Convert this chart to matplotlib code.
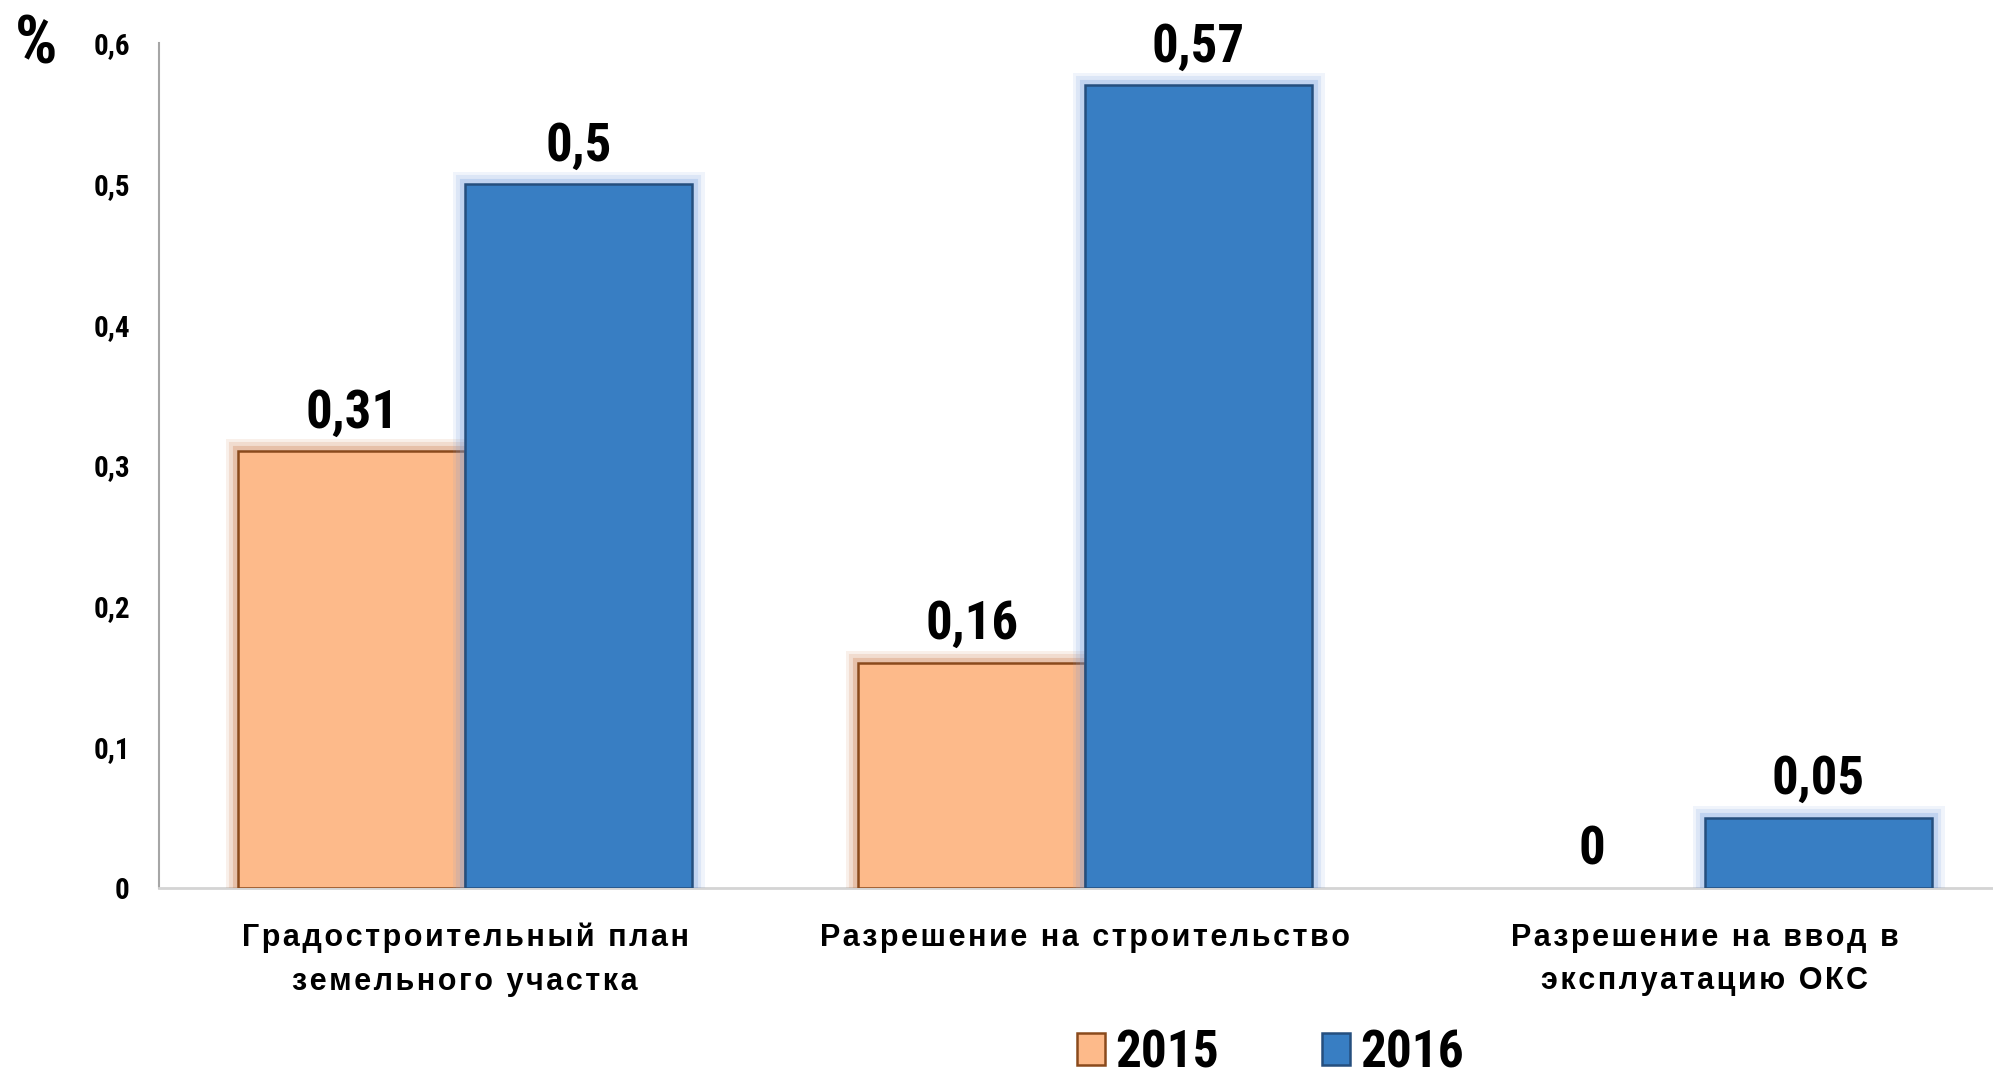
import matplotlib
matplotlib.use("Agg")
import matplotlib.pyplot as plt
import matplotlib.patheffects as pe
from matplotlib import font_manager
from matplotlib.font_manager import FontProperties
import numpy as np

categories = ["Градостроительный план\nземельного участка",
              "Разрешение на строительство",
              "Разрешение на ввод в\nэксплуатацию ОКС"]
years = ["2015", "2016"]
values_2015 = [0.31, 0.16, 0]
values_2016 = [0.5, 0.57, 0.05]
value_labels_2015 = ["0,31", "0,16", "0"]
value_labels_2016 = ["0,5", "0,57", "0,05"]
yticks = [0, 0.1, 0.2, 0.3, 0.4, 0.5, 0.6]
ytick_labels = ["0", "0,1", "0,2", "0,3", "0,4", "0,5", "0,6"]


def find_narrow():
    files = [f.fname for f in font_manager.fontManager.ttflist]
    wanted = ["LiberationSansNarrow-Bold.", "RobotoCondensed-Bold.",
              "Roboto_Condensed-Bold", "DejaVuSansCondensed-Bold.",
              "OpenSans_Condensed-Bold", "OpenSansCondensed-Bold"]
    for w in wanted:
        for f in files:
            if w in f.replace("\\", "/").split("/")[-1]:
                return f
    for f in files:
        n = f.split("/")[-1]
        if ("Condensed" in n or "Narrow" in n) and "Bold" in n and "Italic" not in n \
                and "Oblique" not in n:
            return f
    return None


nfile = find_narrow()


def narrow(size):
    if nfile:
        return FontProperties(fname=nfile, size=size)
    return FontProperties(family="DejaVu Sans", weight="bold", stretch="condensed",
                          size=size)


def spaced(s):
    # wide letter spacing like the original, via hair spaces
    return "\n".join("\u200a".join(line) for line in s.split("\n"))


names = {f.name for f in font_manager.fontManager.ttflist}
wide = "Liberation Sans" if "Liberation Sans" in names else "DejaVu Sans"

fig = plt.figure(figsize=(19.93, 10.78), dpi=100)
ax = fig.add_axes([0.0798, 0.1763, 0.9202, 0.7837])

x = np.arange(len(categories))
w = 0.366

styles = [
    dict(face="#FDBA8A", edge="#8A4A1C", glow="#C8703A"),
    dict(face="#387EC3", edge="#254F7E", glow="#6F9BE0"),
]

for i, (vals, labels) in enumerate([(values_2015, value_labels_2015),
                                    (values_2016, value_labels_2016)]):
    st = styles[i]
    glow = [pe.Stroke(linewidth=lw, foreground=st["glow"], alpha=a)
            for lw, a in [(18, 0.10), (13, 0.15), (8, 0.25)]] + [pe.Normal()]
    pos = x + (i - 0.5) * w
    bars = ax.bar(pos, vals, width=w, color=st["face"], edgecolor=st["edge"],
                  linewidth=1.8, label=years[i], zorder=3)
    for b, v in zip(bars, vals):
        if v > 0:
            b.set_path_effects(glow)
        else:
            b.set_linewidth(0)
    for p, v, lab in zip(pos, vals, labels):
        ax.annotate(lab, (p, v), xytext=(0, 9), textcoords="offset points",
                    ha="center", va="bottom", fontproperties=narrow(38), zorder=5)

ax.set_xlim(-0.494, 2.465)
ax.set_ylim(0, 0.6)
ax.set_yticks(yticks)
ax.set_yticklabels(ytick_labels, fontproperties=narrow(21))
ax.set_xticks(x)
ax.set_xticklabels([spaced(c) for c in categories], fontsize=22,
                   fontweight="bold", family=[wide, "DejaVu Sans"],
                   linespacing=1.6)
ax.tick_params(axis="y", length=0, pad=21)
ax.tick_params(axis="x", length=0, pad=25)

for s in ["top", "right"]:
    ax.spines[s].set_visible(False)
ax.spines["left"].set_color("#A6A6A6")
ax.spines["left"].set_linewidth(1.5)
ax.spines["bottom"].set_color("#D4D4D4")
ax.spines["bottom"].set_linewidth(2)

fig.text(15 / 1993, 1 - 13 / 1078, "%", fontproperties=narrow(48),
         ha="left", va="top")

leg = fig.legend(loc="lower left", bbox_to_anchor=(1077 / 1993, 0.0), ncol=2,
                 frameon=False, prop=narrow(37),
                 handlelength=0.55, handleheight=0.6, handletextpad=0.2,
                 columnspacing=2.0, borderpad=0, borderaxespad=0)
for h in leg.legend_handles:
    h.set_path_effects([])

fig.savefig("out.png", dpi=100)
